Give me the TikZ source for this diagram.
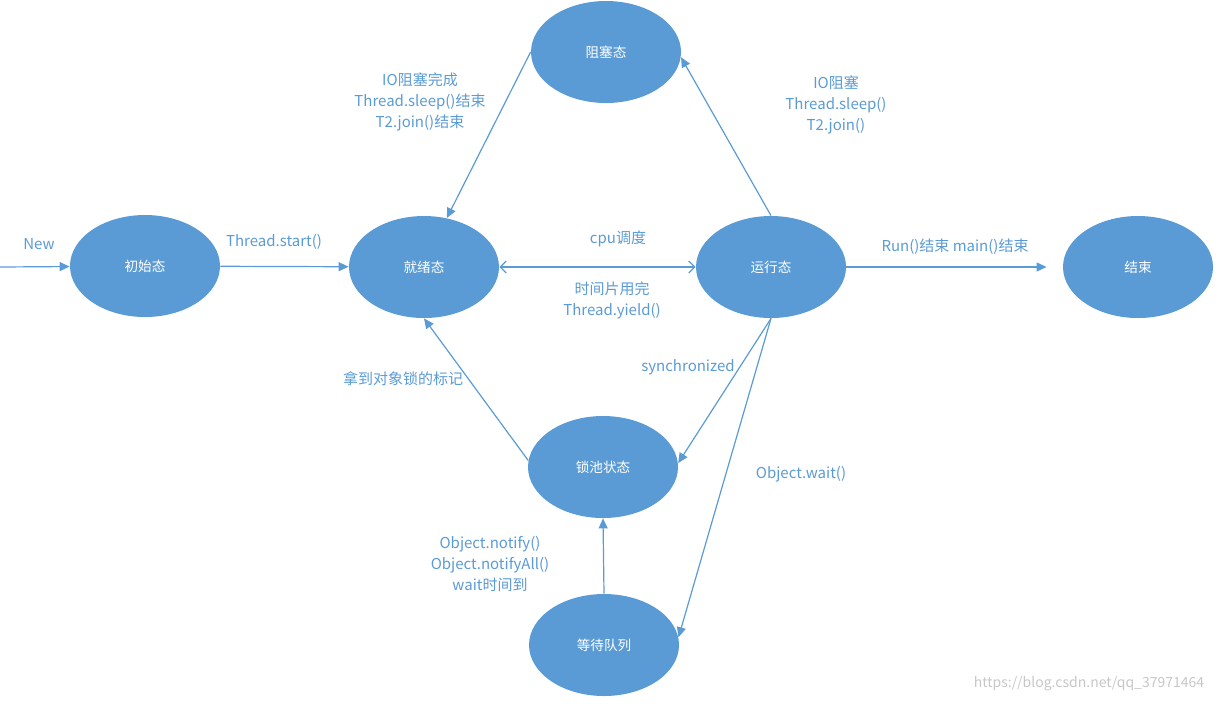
\documentclass[tikz,border=0pt]{standalone}
\usepackage{fontspec}
\setmainfont{Noto Sans CJK SC}
\usetikzlibrary{arrows.meta,shapes.geometric}
\definecolor{stateblue}{HTML}{5B9BD5}

\begin{document}
\begin{tikzpicture}[x=0.5pt,y=-0.5pt,
		state/.style={ellipse,fill=stateblue,minimum width=75pt,minimum height=51pt,
			inner sep=0pt,text=white,font=\fontsize{6.8pt}{8pt}\selectfont},
		lbl/.style={text=stateblue,align=center,inner sep=0pt,
			font=\fontsize{7.5pt}{10.5pt}\selectfont},
		edge/.style={draw=stateblue,line width=0.6pt,-{Triangle[length=5pt,width=4.5pt]}}
	]
	\useasboundingbox (0,0) rectangle (1219,703);

	% States
	\node[state] (init)  at (145,266) {初始态};
	\node[state] (ready) at (424,267) {就绪态};
	\node[state] (run)   at (771,267) {运行态};
	\node[state] (dead)  at (1138,267) {结束};
	\node[state] (block) at (606,52) {阻塞态};
	\node[state] (lock)  at (603,467) {锁池状态};
	\node[state] (wait)  at (604,645) {等待队列};
	\coordinate (newstart) at (0,267);

	% Transitions
	\draw[edge] (newstart) -- (init);
	\draw[edge] (init) -- (ready);
	\draw[edge] (block.west) -- (ready.65);
	\draw[edge] (run.north) -- (block.-4);
	\draw[draw=stateblue,line width=0.6pt,
		{Straight Barb[length=3pt,width=6pt]}-{Straight Barb[length=3pt,width=6pt]}]
		(ready) -- (run);
	\draw[edge,shorten >=8pt] (run) -- (dead);
	\draw[edge] (lock.175) -- (ready.south);
	\draw[edge] (run.south) -- (lock.3);
	\draw[edge] (run.south) -- (wait.6);
	\draw[edge] (wait.north) -- (lock.south);

	% Labels
	\node[lbl] (lnew) at (39,244) {New};
	\node[lbl] (lstart) at (274,242) {Thread.start()};
	\node[lbl] (lwake) at (420,102) {IO阻塞完成\\Thread.sleep()结束\\T2.join()结束};
	\node[lbl] (lsleep) at (836,105) {IO阻塞\\Thread.sleep()\\T2.join()};
	\node[lbl] (lcpu) at (618,239) {cpu调度};
	\node[lbl] (lyield) at (612,300) {时间片用完\\Thread.yield()};
	\node[lbl] (lend) at (955,247) {Run()结束 main()结束};
	\node[lbl] (lgot) at (403,379) {拿到对象锁的标记};
	\node[lbl] (lsync) at (688,367) {synchronized};
	\node[lbl] (lowait) at (801,474) {Object.wait()};
	\node[lbl] (lnotify) at (490,564) {Object.notify()\\Object.notifyAll()\\wait时间到};
	\node[text=black!22,inner sep=0pt,font=\fontsize{7pt}{8pt}\selectfont] (mark)
		at (1089,684) {https://blog.csdn.net/qq\_37971464};
\end{tikzpicture}
\end{document}
